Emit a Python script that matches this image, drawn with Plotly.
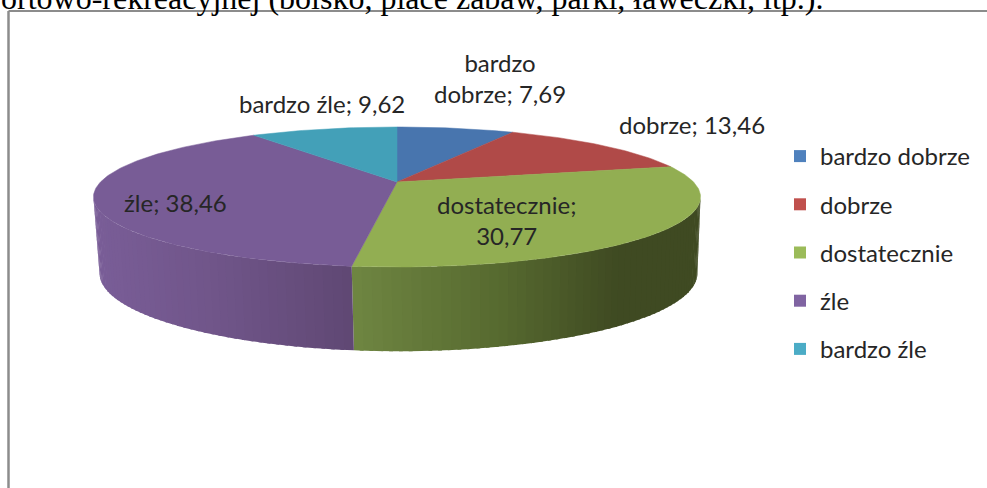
import math
import plotly.graph_objects as go

categories = ["bardzo dobrze", "dobrze", "dostatecznie", "źle", "bardzo źle"]
values = [7.69, 13.46, 30.77, 38.46, 9.62]
value_labels = ["7,69", "13,46", "30,77", "38,46", "9,62"]

top_colors = ["#4875ae", "#b04a48", "#92ae52", "#785c96", "#43a0b8"]
legend_colors = ["#4f81bd", "#c0504d", "#9bbb59", "#8064a2", "#4bacc6"]
title_text = "ortowo-rekreacyjnej (boisko, place zabaw, parki, ławeczki, itp.)."

# projection of the tilted disc on to pixel axes
CX, CY, A, B, K = 397, 182, 296.5, 66.8, 0.214
CX2, CY2, A2, B2 = 398.5, 256.7, 292, 74.3

def top(t):
    w = 1 + K * math.cos(t)
    return CX + A * math.sin(t) / w, CY - B * math.cos(t) / w

def bottom(t):
    w = 1 + K * math.cos(t)
    return CX2 + A2 * math.sin(t) / w, CY2 - B2 * math.cos(t) / w

def hex2rgb(h):
    return tuple(int(h[i:i + 2], 16) for i in (1, 3, 5))

def ramp(stops, x):
    if x <= stops[0][0]:
        return stops[0][1]
    for (x0, c0), (x1, c1) in zip(stops, stops[1:]):
        if x <= x1:
            f = (x - x0) / (x1 - x0)
            a, b = hex2rgb(c0), hex2rgb(c1)
            return "rgb(%d,%d,%d)" % tuple(a[i] + (b[i] - a[i]) * f for i in range(3))
    return stops[-1][1]

side_ramps = {
    2: [(352, "#6f8642"), (500, "#576a30"), (620, "#3f4a22"), (700, "#3f4a22")],
    3: [(93, "#7a5e98"), (220, "#705589"), (352, "#604874")],
}

total = sum(values)
edges = [0.0]
for v in values:
    edges.append(edges[-1] + v / total * 2 * math.pi)

fig = go.Figure()

# visible rim of the disc, cut into thin strips to carry the shading
t_min, t_max = math.radians(102), math.radians(258)
overlap = math.radians(0.6)
for i in (2, 3):
    lo, hi = max(edges[i], t_min), min(edges[i + 1], t_max)
    n = max(2, int(math.degrees(hi - lo) / 1.5))
    for j in range(n):
        t0 = lo + (hi - lo) * j / n
        t1 = lo + (hi - lo) * (j + 1) / n
        t2 = min(t1 + overlap, hi)
        p = [top(t0), top(t2), bottom(t2), bottom(t0), top(t0)]
        col = ramp(side_ramps[i], (top(t0)[0] + top(t1)[0]) / 2)
        fig.add_trace(go.Scatter(x=[q[0] for q in p], y=[q[1] for q in p], mode="none",
                                 fill="toself", fillcolor=col,
                                 hoverinfo="skip", showlegend=False))

# upper face
for i, name in enumerate(categories):
    n = max(2, int(math.degrees(edges[i + 1] - edges[i])))
    pts = [(CX, CY)] + [top(edges[i] + (edges[i + 1] - edges[i]) * j / n) for j in range(n + 1)] + [(CX, CY)]
    fig.add_trace(go.Scatter(x=[q[0] for q in pts], y=[q[1] for q in pts], mode="lines",
                             fill="toself", fillcolor=top_colors[i], line=dict(color=top_colors[i], width=0.5),
                             name=name, hoverinfo="name", showlegend=False))

# legend entries
for i, name in enumerate(categories):
    fig.add_trace(go.Scatter(x=[None], y=[None], mode="markers", name=name, legendgroup=name,
                             marker=dict(symbol="square", size=14, color=legend_colors[i])))

label_font = dict(family="Lato", size=24, color="#262626")
labels = [
    (0, "bardzo<br>dobrze; " + value_labels[0], 500, 78),
    (1, "dobrze; " + value_labels[1], 692, 124),
    (2, "dostatecznie;<br>" + value_labels[2], 506, 220),
    (3, "źle; " + value_labels[3], 175, 202),
    (4, "bardzo źle; " + value_labels[4], 322, 103),
]
for _, txt, x, y in labels:
    fig.add_annotation(x=x, y=y, xref="x", yref="y", text=txt, showarrow=False, align="center",
                       font=label_font, xanchor="center", yanchor="middle")

fig.add_annotation(x=-1 / 987, y=1 + 2 / 488, xref="paper", yref="paper", text=title_text, showarrow=False,
                   font=dict(family="Liberation Serif", size=32, color="#000000"),
                   xanchor="left", yanchor="middle")

# outline of the embedded picture: top and left edge only
fig.add_shape(type="line", x0=8.5, x1=987, y0=11, y1=11, xref="x", yref="y", line=dict(color="#8c8c8c", width=2))
fig.add_shape(type="line", x0=8.5, x1=8.5, y0=11, y1=488, xref="x", yref="y", line=dict(color="#8c8c8c", width=2.5))

fig.update_layout(
    width=987, height=488, margin=dict(l=0, r=0, t=0, b=0),
    paper_bgcolor="white", plot_bgcolor="white",
    xaxis=dict(range=[0, 987], visible=False, fixedrange=True),
    yaxis=dict(range=[488, 0], visible=False, fixedrange=True),
    showlegend=True,
    legend=dict(x=780 / 987, y=1 - 134 / 488, xanchor="left", yanchor="top", tracegroupgap=14,
                font=dict(family="Lato", size=24, color="#262626"), bgcolor="rgba(0,0,0,0)",
                itemsizing="constant"),
)
fig.write_html("out.html", config=dict(displayModeBar=False),
               post_script="document.body.style.margin='0';document.body.style.overflow='hidden';")
